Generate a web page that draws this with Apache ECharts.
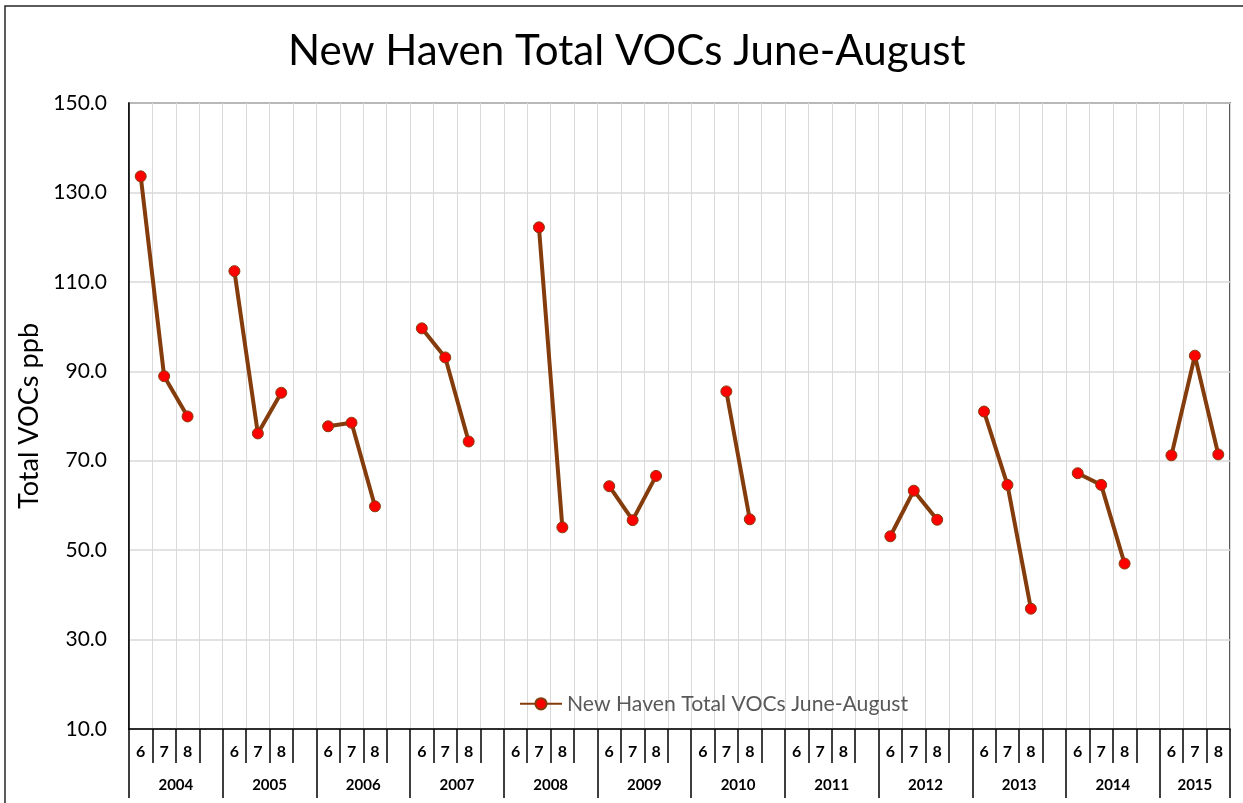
<!DOCTYPE html>
<html>
<head>
<meta charset="utf-8">
<title>New Haven Total VOCs June-August</title>
<script src="https://cdn.jsdelivr.net/npm/echarts@6/dist/echarts.min.js"></script>
<style>
    html, body { margin: 0; padding: 0; background: #fff; }
    #chart { width: 1243px; height: 803px; }
</style>
</head>
<body>
<div id="chart"></div>
<script>
// data (ppb), one value per year, null = no sample
var years = ['2004', '2005', '2006', '2007', '2008', '2009', '2010', '2011', '2012', '2013', '2014', '2015'];
var months = ['6', '7', '8'];
var junValues = [133.6, 112.4, 77.7, 99.6, null, 64.3, null, null, 53.1, 81.0, 67.2, 71.2];
var julValues = [88.9, 76.1, 78.5, 93.1, 122.2, 56.7, 85.5, null, 63.3, 64.6, 64.6, 93.5];
var augValues = [79.9, 85.2, 59.8, 74.3, 55.1, 66.6, 56.9, null, 56.8, 36.9, 47.0, 71.4];
var yMin = 10, yMax = 150, yStep = 20;

var titleText = 'New Haven Total VOCs June-August';
var seriesName = 'New Haven Total VOCs June-August';
var yName = 'Total VOCs ppb';
var font = 'Lato';

// font size that makes a text a given width (Calibri stand-in)
function fitSize(text, width, weight) {
    var ctx = document.createElement('canvas').getContext('2d');
    ctx.font = (weight || 'normal') + ' 100px ' + font;
    return Math.round(1000 * width / ctx.measureText(text).width) / 10;
}

// month slots: 6,7,8 and an empty spacer between years
var monthCats = [];
var slotValues = [];
years.forEach(function (y, i) {
    monthCats.push(months[0], months[1], months[2]);
    slotValues.push(junValues[i], julValues[i], augValues[i]);
    if (i < years.length - 1) {
        monthCats.push('');
        slotValues.push(null);
    }
});

// year axis on half-slot points so labels can sit between slots
var yearCats = [];
for (var k = 0; k <= monthCats.length * 2; k++) yearCats.push('');
var yearTicks = {};
var slot = 0;
years.forEach(function (y, i) {
    var n = i < years.length - 1 ? 4 : 3;
    yearTicks[2 * slot] = true;
    yearCats[2 * slot + n] = y;
    slot += n;
});
yearTicks[2 * slot] = true;

var titleSize = fitSize(titleText, 677);
var legendSize = fitSize(seriesName, 341);
var yNameSize = fitSize(yName, 186);
var yLabelSize = 21;
var yearSize = 15;
var monthSize = 16;

var myChart = echarts.init(document.getElementById('chart'));
var option = {
    animation: false,
    textStyle: { fontFamily: font },
    graphic: [{
        type: 'rect',
        silent: true,
        z: -10,
        shape: { x: 5, y: 6, width: 1300, height: 900 },
        style: { fill: 'none', stroke: '#262626', lineWidth: 1.5 }
    }],
    title: {
        text: titleText,
        left: 283,
        top: 52 - titleSize * 0.62,
        textStyle: { fontFamily: font, fontSize: titleSize, fontWeight: 'normal', color: '#000' }
    },
    legend: {
        data: [seriesName],
        left: 514,
        top: 701 - legendSize * 0.6,
        itemWidth: 42,
        itemHeight: 14,
        textStyle: { fontFamily: font, fontSize: legendSize, color: '#595959' }
    },
    grid: {
        left: 129,
        right: 13,
        top: 103,
        bottom: 74,
        show: true,
        borderColor: '#222',
        borderWidth: 1.5,
        containLabel: false
    },
    xAxis: [
        {
            type: 'category',
            data: monthCats,
            boundaryGap: true,
            axisLine: { lineStyle: { color: '#000', width: 1.5 } },
            axisTick: { show: true, interval: 0, length: 34, lineStyle: { color: '#000', width: 1.5 } },
            axisLabel: { interval: 0, margin: 15, fontFamily: font, fontSize: monthSize, fontWeight: 'bold', color: '#000' },
            splitLine: { show: true, interval: 0, lineStyle: { color: '#d9d9d9', width: 1 } }
        },
        {
            type: 'category',
            data: yearCats,
            position: 'bottom',
            boundaryGap: false,
            axisLine: { show: false },
            axisTick: {
                show: true,
                length: 69,
                interval: function (idx) { return !!yearTicks[idx]; },
                lineStyle: { color: '#000', width: 1.5 }
            },
            axisLabel: {
                margin: 49,
                interval: function (idx, val) { return val !== ''; },
                fontFamily: font,
                fontSize: yearSize,
                fontWeight: 'bold',
                color: '#000'
            },
            splitLine: { show: false }
        }
    ],
    yAxis: {
        type: 'value',
        min: yMin,
        max: yMax,
        interval: yStep,
        name: yName,
        nameLocation: 'middle',
        nameGap: 84,
        nameTextStyle: { fontFamily: font, fontSize: yNameSize, color: '#000' },
        axisLine: { show: true, lineStyle: { color: '#000', width: 1.5 } },
        axisTick: { show: false },
        axisLabel: {
            margin: 22,
            fontFamily: font,
            fontSize: yLabelSize,
            color: '#000',
            formatter: function (v) { return v.toFixed(1); }
        },
        splitLine: { show: true, lineStyle: { color: '#d9d9d9', width: 1.5 } }
    },
    series: [{
        name: seriesName,
        type: 'line',
        xAxisIndex: 0,
        data: slotValues,
        connectNulls: false,
        symbol: 'circle',
        symbolSize: 11,
        showAllSymbol: true,
        lineStyle: { color: '#843c0c', width: 4 },
        itemStyle: { color: '#ff0000', borderColor: '#843c0c', borderWidth: 1 }
    }]
};
myChart.setOption(option);
</script>
</body>
</html>
